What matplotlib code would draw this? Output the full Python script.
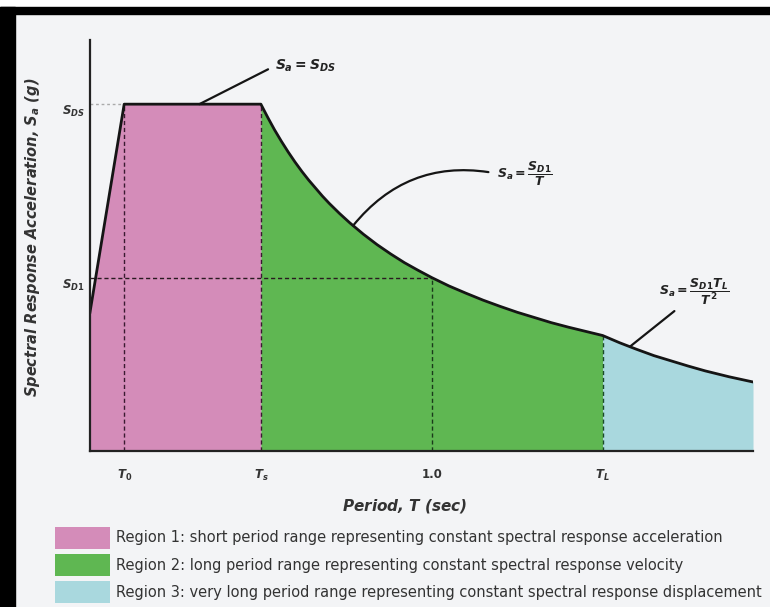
import matplotlib
matplotlib.use('Agg')
import matplotlib.pyplot as plt
from matplotlib.patches import Patch, Rectangle
import numpy as np

plt.rcParams['font.family'] = ['DejaVu Sans']
plt.rcParams['mathtext.fontset'] = 'custom'
plt.rcParams['mathtext.rm'] = 'DejaVu Sans:bold'
plt.rcParams['mathtext.it'] = 'DejaVu Sans:italic:bold'
plt.rcParams['mathtext.bf'] = 'DejaVu Sans:bold'

# design spectrum values (T in sec, Sa in units of SDS)
period = [0.0, 0.1, 0.5, 0.52, 0.54, 0.56, 0.58, 0.6, 0.62, 0.64, 0.66, 0.68,
          0.7, 0.73, 0.76, 0.8, 0.84, 0.88, 0.92, 0.96, 1.0, 1.05, 1.1, 1.15,
          1.2, 1.25, 1.3, 1.35, 1.4, 1.45, 1.5, 1.55, 1.6, 1.65, 1.7, 1.75,
          1.8, 1.87, 1.94]
accel = [0.4, 1.0, 1.0, 0.962, 0.926, 0.893, 0.862, 0.833, 0.806, 0.781,
         0.758, 0.735, 0.714, 0.685, 0.658, 0.625, 0.595, 0.568, 0.543, 0.521,
         0.5, 0.476, 0.455, 0.435, 0.417, 0.4, 0.385, 0.37, 0.357, 0.345,
         0.333, 0.312, 0.293, 0.275, 0.26, 0.245, 0.231, 0.214, 0.199]

T0, Ts, T1, TL = 0.1, 0.5, 1.0, 1.5
SDS, SD1 = 1.0, 0.5
T_max, Sa_max = 1.94, 1.185

xtick_vals = [T0, Ts, T1, TL]
xtick_labels = [r'$T_0$', r'$T_s$', '1.0', r'$T_L$']
ytick_vals = [SD1, SDS]
ytick_labels = [r'$S_{D1}$', r'$S_{DS}$']

region_colors = ['#d48cb9', '#5fb752', '#a9d8de']
region_labels = [
    'Region 1: short period range representing constant spectral response acceleration',
    'Region 2: long period range representing constant spectral response velocity',
    'Region 3: very long period range representing constant spectral response displacement',
]

W, H = 770, 607
fig = plt.figure(figsize=(W / 100, H / 100), dpi=100, facecolor='#f3f4f6')

# frame bits of the scanned picture
fig.add_artist(Rectangle((0, 1 - 7 / H), 1, 7 / H, transform=fig.transFigure,
                         color='white', zorder=0))
fig.add_artist(Rectangle((0, 1 - 14 / H), 1, 7 / H, transform=fig.transFigure,
                         color='black', zorder=0))
fig.add_artist(Rectangle((0, 0), 15 / W, 1 - 7 / H, transform=fig.transFigure,
                         color='black', zorder=0))

ax = fig.add_axes([90 / W, (H - 451) / H, 663 / W, 411 / H])
ax.patch.set_alpha(0)

T = np.array(period)
Sa = np.array(accel)

ax.fill_between(T, 0, Sa, where=T <= Ts, color=region_colors[0], lw=0)
ax.fill_between(T, 0, Sa, where=(T >= Ts) & (T <= TL), color=region_colors[1], lw=0)
ax.fill_between(T, 0, Sa, where=T >= TL, color=region_colors[2], lw=0)

# guide lines
ax.hlines(SDS, 0, T0, colors='#aaaaaa', linestyles=(0, (2, 2)), lw=1)
ax.vlines([T0, Ts], 0, SDS, colors='#3a1a30', linestyles=(0, (3, 2)), lw=1)
ax.hlines(SD1, 0, T1, colors='#2a1a20', linestyles=(0, (3, 2)), lw=1)
ax.vlines(T1, 0, SD1, colors='#1a3a1a', linestyles=(0, (3, 2)), lw=1)
ax.vlines(TL, 0, accel[period.index(TL)], colors='#1a4a2a', linestyles=(0, (3, 2)), lw=1)

ax.plot(T, Sa, color='#151515', lw=2, solid_joinstyle='round')

ax.set_xlim(0, T_max)
ax.set_ylim(0, Sa_max)
for s in ['top', 'right']:
    ax.spines[s].set_visible(False)
ax.spines['left'].set_linewidth(1.6)
ax.spines['bottom'].set_linewidth(1.6)
ax.spines['left'].set_color('#222222')
ax.spines['bottom'].set_color('#222222')

ax.set_xticks(xtick_vals)
ax.set_xticklabels(xtick_labels, fontsize=8.5, fontweight='bold', color='#333333')
ax.set_yticks(ytick_vals)
ax.set_yticklabels(ytick_labels, fontsize=8.5, color='#333333', va='top')
ax.tick_params(axis='both', length=0)
ax.tick_params(axis='x', pad=12)
ax.tick_params(axis='y', pad=4)

ax.set_xlabel(r'Period, $T$ (sec)', fontsize=11, fontweight='bold', style='italic',
              color='#333333')
ax.xaxis.set_label_coords((405 - 90) / 663, -(497 - 451) / 411)
ax.set_ylabel(r'Spectral Response Acceleration, $S_a$ (g)', fontsize=10.5,
              fontweight='bold', style='italic', color='#333333')
ax.yaxis.set_label_coords(-(90 - 42) / 663, (451 - 237) / 411)

# formula callouts
ax.annotate(r'$S_a = S_{DS}$', xy=(0.32, SDS), xytext=(0.54, 1.11),
            fontsize=10, va='center', ha='left', color='#222222',
            arrowprops=dict(arrowstyle='-', color='#151515', lw=1.6,
                            shrinkA=3, shrinkB=0, relpos=(0, 0.5)))
ax.annotate(r'$S_a = \dfrac{S_{D1}}{T}$', xy=(0.77, 0.65), xytext=(1.19, 0.80),
            fontsize=9, va='center', ha='left', color='#222222',
            arrowprops=dict(arrowstyle='-', color='#151515', lw=1.6,
                            shrinkA=4, shrinkB=0, relpos=(0, 0.5),
                            connectionstyle='arc3,rad=0.3'))
ax.annotate(r'$S_a = \dfrac{S_{D1}T_L}{T^2}$', xy=(1.58, 0.301), xytext=(1.665, 0.46),
            fontsize=9, va='center', ha='left', color='#222222',
            arrowprops=dict(arrowstyle='-', color='#151515', lw=1.6,
                            shrinkA=2, shrinkB=0, relpos=(0.3, 0.0)))

handles = [Patch(facecolor=c, edgecolor='none') for c in region_colors]
fig.legend(handles, region_labels, loc='upper left',
           bbox_to_anchor=(55 / W, 1 - 527 / H), frameon=False, fontsize=10.5,
           handlelength=3.75, handleheight=1.9, handletextpad=0.45,
           labelspacing=0.38, borderpad=0, borderaxespad=0, labelcolor='#333333')

fig.savefig('out.png', dpi=100, facecolor=fig.get_facecolor())
